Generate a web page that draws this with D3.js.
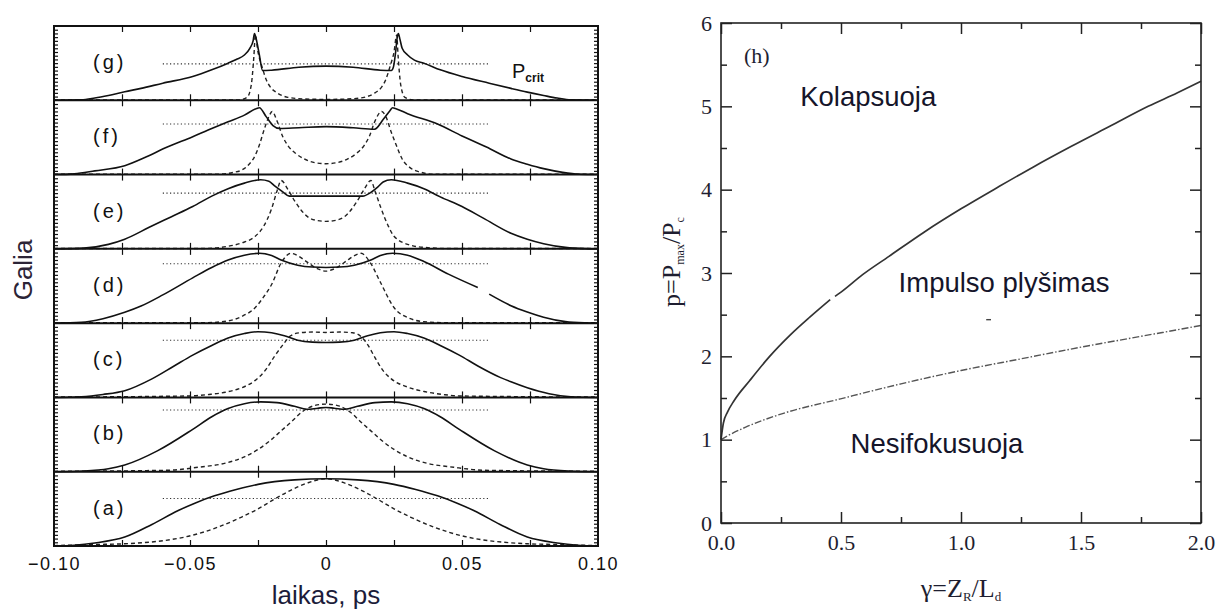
<!DOCTYPE html>
<html><head><meta charset="utf-8">
<script src="https://cdn.jsdelivr.net/npm/d3@7"></script>
<style>
html,body{margin:0;padding:0;background:#fff;}
svg{display:block;}
</style></head>
<body>
<svg id="chart" width="1232" height="612"></svg>
<script>
// ---------------- DATA ----------------
// left panels, top to bottom
const panelNames = ["(g)", "(f)", "(e)", "(d)", "(c)", "(b)", "(a)"];
const timeTicks = [-0.1, -0.05, 0, 0.05, 0.1];
const timeTickLabels = ["\u22120.10", "\u22120.05", "0", "0.05", "0.10"];
const pcritLevels = [0.49, 0.68, 0.75, 0.80, 0.77, 0.83, 0.64];
const pcritRange = [-0.06, 0.06];

const solidG = [[-0.1,0],[-0.09,0.005],[-0.085,0.03],[-0.08,0.065],[-0.074,0.115],[-0.068,0.16],[-0.06,0.23],[-0.049,0.32],[-0.042,0.41],[-0.036,0.5],[-0.033,0.55],[-0.030,0.61],[-0.028,0.70],[-0.0268,0.80],[-0.0263,0.90],[-0.0255,0.80],[-0.0245,0.61],[-0.0233,0.40],[-0.02,0.405],[-0.01,0.445],[0,0.46],[0.01,0.445],[0.02,0.405],[0.024,0.40],[0.0248,0.45],[0.0256,0.65],[0.0262,0.85],[0.0266,0.90],[0.0272,0.82],[0.028,0.70],[0.030,0.61],[0.0325,0.54],[0.036,0.5],[0.042,0.41],[0.05,0.32],[0.06,0.23],[0.068,0.16],[0.074,0.11],[0.08,0.065],[0.085,0.03],[0.09,0.005],[0.1,0]];
const dashG = [[-0.1,0.005],[-0.032,0.005],[-0.029,0.04],[-0.0275,0.2],[-0.0265,0.6],[-0.026,0.88],[-0.025,0.65],[-0.0235,0.45],[-0.022,0.28],[-0.0205,0.18],[-0.018,0.1],[-0.014,0.04],[-0.008,0.018],[0,0.012],[0.008,0.018],[0.014,0.04],[0.018,0.1],[0.0205,0.18],[0.022,0.28],[0.0235,0.45],[0.025,0.65],[0.026,0.88],[0.0265,0.6],[0.0275,0.2],[0.029,0.04],[0.032,0.005],[0.1,0.005]];

const solidF = [[-0.1,0],[-0.0925,0.01],[-0.085,0.05],[-0.074,0.12],[-0.066,0.24],[-0.059,0.36],[-0.049,0.51],[-0.042,0.62],[-0.036,0.71],[-0.03,0.8],[-0.0255,0.89],[-0.0245,0.90],[-0.022,0.78],[-0.0195,0.66],[-0.017,0.62],[-0.01,0.63],[0,0.645],[0.01,0.63],[0.0178,0.61],[0.021,0.74],[0.0235,0.86],[0.0245,0.90],[0.0255,0.89],[0.03,0.82],[0.041,0.68],[0.05,0.52],[0.059,0.37],[0.068,0.21],[0.074,0.14],[0.08,0.08],[0.087,0.03],[0.093,0.005],[0.1,0]];
const dashF = [[-0.1,0.005],[-0.04,0.005],[-0.034,0.03],[-0.031,0.06],[-0.028,0.15],[-0.026,0.26],[-0.0243,0.42],[-0.0227,0.61],[-0.021,0.78],[-0.0198,0.85],[-0.018,0.72],[-0.016,0.52],[-0.014,0.39],[-0.011,0.28],[-0.008,0.21],[-0.004,0.16],[0,0.146],[0.004,0.16],[0.008,0.21],[0.011,0.28],[0.014,0.39],[0.016,0.52],[0.018,0.72],[0.0205,0.85],[0.022,0.78],[0.024,0.57],[0.026,0.38],[0.028,0.21],[0.031,0.09],[0.034,0.04],[0.04,0.005],[0.1,0.005]];

const solidE = [[-0.1,0],[-0.089,0.01],[-0.08,0.06],[-0.074,0.13],[-0.065,0.29],[-0.057,0.43],[-0.049,0.57],[-0.042,0.71],[-0.036,0.81],[-0.03,0.885],[-0.024,0.93],[-0.021,0.91],[-0.019,0.85],[-0.016,0.77],[-0.0135,0.71],[-0.005,0.71],[0,0.71],[0.005,0.71],[0.0135,0.71],[0.0165,0.76],[0.019,0.83],[0.021,0.9],[0.024,0.93],[0.03,0.885],[0.036,0.81],[0.042,0.70],[0.05,0.57],[0.058,0.41],[0.068,0.21],[0.074,0.13],[0.08,0.07],[0.088,0.02],[0.095,0.003],[0.1,0]];
const dashE = [[-0.1,0.005],[-0.045,0.005],[-0.036,0.035],[-0.031,0.08],[-0.026,0.17],[-0.023,0.3],[-0.020,0.54],[-0.018,0.78],[-0.0165,0.92],[-0.014,0.8],[-0.0116,0.65],[-0.0067,0.43],[-0.003,0.38],[0,0.37],[0.003,0.38],[0.0067,0.43],[0.0116,0.65],[0.014,0.8],[0.0165,0.92],[0.018,0.78],[0.020,0.57],[0.023,0.3],[0.025,0.17],[0.031,0.05],[0.036,0.02],[0.045,0.005],[0.1,0.005]];

const solidD = [[-0.1,0],[-0.09,0.01],[-0.082,0.06],[-0.074,0.146],[-0.068,0.23],[-0.06,0.38],[-0.049,0.61],[-0.042,0.75],[-0.036,0.85],[-0.03,0.915],[-0.0245,0.94],[-0.02,0.91],[-0.0165,0.85],[-0.0104,0.78],[-0.005,0.755],[0,0.75],[0.005,0.755],[0.0104,0.78],[0.0165,0.85],[0.02,0.91],[0.0245,0.94],[0.03,0.915],[0.036,0.83],[0.045,0.66],[0.0558,0.48],null,[0.06,0.39],[0.068,0.235],[0.074,0.15],[0.08,0.08],[0.088,0.02],[0.095,0.003],[0.1,0]];
const dashD = [[-0.1,0.005],[-0.045,0.005],[-0.036,0.03],[-0.031,0.09],[-0.026,0.21],[-0.023,0.35],[-0.020,0.52],[-0.0165,0.81],[-0.0129,0.94],[-0.01,0.9],[-0.008,0.85],[-0.003,0.73],[0,0.70],[0.003,0.73],[0.008,0.85],[0.01,0.9],[0.0129,0.94],[0.0165,0.8],[0.020,0.55],[0.025,0.21],[0.031,0.06],[0.036,0.02],[0.045,0.005],[0.1,0.005]];

const solidC = [[-0.1,0],[-0.09,0.01],[-0.082,0.04],[-0.074,0.09],[-0.064,0.25],[-0.056,0.42],[-0.049,0.57],[-0.042,0.7],[-0.036,0.80],[-0.03,0.86],[-0.025,0.885],[-0.02,0.87],[-0.0153,0.83],[-0.0104,0.77],[-0.005,0.745],[0,0.74],[0.005,0.745],[0.0104,0.77],[0.0153,0.83],[0.02,0.87],[0.025,0.885],[0.03,0.86],[0.036,0.80],[0.042,0.7],[0.049,0.57],[0.056,0.42],[0.064,0.27],[0.068,0.21],[0.074,0.13],[0.082,0.05],[0.09,0.01],[0.1,0]];
const dashC = [[-0.1,0.005],[-0.05,0.02],[-0.043,0.04],[-0.037,0.07],[-0.031,0.13],[-0.026,0.23],[-0.022,0.38],[-0.019,0.55],[-0.016,0.7],[-0.013,0.83],[-0.0098,0.87],[-0.005,0.88],[0,0.875],[0.005,0.88],[0.0098,0.87],[0.0129,0.82],[0.0155,0.7],[0.0178,0.55],[0.021,0.36],[0.024,0.25],[0.03,0.14],[0.036,0.08],[0.043,0.04],[0.049,0.02],[0.1,0.005]];

const solidB = [[-0.1,0],[-0.089,0.01],[-0.08,0.04],[-0.074,0.09],[-0.062,0.28],[-0.049,0.57],[-0.042,0.74],[-0.036,0.85],[-0.03,0.915],[-0.024,0.94],[-0.018,0.93],[-0.0116,0.88],[-0.007,0.84],[-0.003,0.855],[0,0.865],[0.003,0.855],[0.007,0.84],[0.0116,0.88],[0.018,0.93],[0.024,0.94],[0.03,0.915],[0.036,0.85],[0.042,0.74],[0.049,0.57],[0.062,0.28],[0.074,0.09],[0.08,0.04],[0.089,0.01],[0.1,0]];
const dashB = [[-0.1,0.005],[-0.058,0.02],[-0.047,0.06],[-0.037,0.115],[-0.03,0.2],[-0.025,0.30],[-0.0205,0.42],[-0.0165,0.55],[-0.0125,0.68],[-0.009,0.80],[-0.0043,0.89],[0,0.91],[0.0043,0.89],[0.009,0.80],[0.0125,0.68],[0.0165,0.55],[0.0205,0.42],[0.025,0.30],[0.03,0.2],[0.037,0.115],[0.047,0.06],[0.058,0.02],[0.1,0.005]];

const solidA = [[-0.1,0],[-0.0925,0.01],[-0.085,0.04],[-0.074,0.12],[-0.064,0.29],[-0.0545,0.475],[-0.048,0.58],[-0.041,0.675],[-0.033,0.76],[-0.025,0.83],[-0.0116,0.89],[0,0.905],[0.0116,0.89],[0.025,0.83],[0.033,0.76],[0.041,0.675],[0.048,0.58],[0.0545,0.475],[0.064,0.29],[0.074,0.12],[0.085,0.04],[0.0925,0.01],[0.1,0]];
const dashA = [[-0.1,0.005],[-0.085,0.02],[-0.074,0.03],[-0.0496,0.14],[-0.04,0.25],[-0.031,0.39],[-0.025,0.5],[-0.019,0.63],[-0.013,0.75],[-0.0067,0.85],[0,0.905],[0.0067,0.85],[0.013,0.75],[0.019,0.63],[0.025,0.5],[0.031,0.39],[0.04,0.25],[0.0496,0.14],[0.074,0.03],[0.085,0.02],[0.1,0.005]];

const solidSeries = [solidG, solidF, solidE, solidD, solidC, solidB, solidA];
const dashSeries = [dashG, dashF, dashE, dashD, dashC, dashB, dashA];

// right panel (h)
const gammaTicks = [0, 0.5, 1.0, 1.5, 2.0];
const gammaTickLabels = ["0.0", "0.5", "1.0", "1.5", "2.0"];
const pTicks = [0, 1, 2, 3, 4, 5, 6];
const collapseBoundary = [[0,1.0],[0.01,1.2],[0.027,1.33],[0.055,1.47],[0.12,1.71],[0.2,1.99],[0.29,2.26],[0.37,2.47],[0.455,2.68],null,[0.475,2.72],[0.5,2.77],[0.59,2.98],[0.7,3.2],[0.846,3.49],[1.0,3.77],[1.16,4.04],[1.3,4.27],[1.46,4.52],[1.62,4.76],[1.78,5.0],[1.9,5.16],[2.0,5.3]];
const focusBoundary = [[0,1.0],[0.03,1.05],[0.103,1.15],[0.253,1.31],[0.498,1.49],[0.75,1.67],[1.0,1.83],[1.25,1.97],[1.5,2.11],[1.75,2.24],[2.0,2.37]];
const strayMark = [[1.105,2.44],[1.125,2.44]];
const regionLabels = [
  {text:"Kolapsuoja", g:0.33, p:5.0},
  {text:"Impulso plyšimas", g:0.74, p:2.77},
  {text:"Nesifokusuoja", g:0.54, p:0.84}
];

// ---------------- DRAW ----------------
const svg = d3.select("#chart");
const sans = "'Liberation Sans', Arial, Helvetica, sans-serif";
const serif = "'Liberation Serif', 'Times New Roman', Times, serif";

// ===== Left panel =====
const L = {left:54, right:598, top:26, bottom:546};
const nP = panelNames.length;
const pH = (L.bottom - L.top) / nP;
const xL = d3.scaleLinear().domain([-0.1, 0.1]).range([L.left, L.right]);
const innerTimeTicks = d3.range(-0.075, 0.0751, 0.025);
const left = svg.append("g");

panelNames.forEach((name, i) => {
  const top = L.top + i * pH, bot = top + pH;
  const y = d3.scaleLinear().domain([0, 1]).range([bot, top]);
  const g = left.append("g");
  const ln = d3.line().defined(d => d !== null).x(d => xL(d[0])).y(d => y(d[1])).curve(d3.curveMonotoneX);

  // Pcrit dotted
  g.append("line")
    .attr("x1", xL(pcritRange[0])).attr("x2", xL(pcritRange[1]))
    .attr("y1", y(pcritLevels[i])).attr("y2", y(pcritLevels[i]))
    .attr("stroke", "#333").attr("stroke-width", 1.1).attr("stroke-dasharray", "1.2,2.4");
  // dashed
  g.append("path").attr("d", ln(dashSeries[i]))
    .attr("fill", "none").attr("stroke", "#222").attr("stroke-width", 1.4).attr("stroke-dasharray", "4,3");
  // solid
  g.append("path").attr("d", ln(solidSeries[i]))
    .attr("fill", "none").attr("stroke", "#111").attr("stroke-width", 1.6);

  // ticks: bottom (pointing up) and top (pointing down)
  const axB = g.append("g").attr("transform", `translate(0,${bot})`)
    .call(d3.axisTop(xL).tickValues(innerTimeTicks).tickSize(6).tickFormat(""));
  const axT = g.append("g").attr("transform", `translate(0,${top})`)
    .call(d3.axisBottom(xL).tickValues(innerTimeTicks).tickSize(6).tickFormat(""));
  const minorY = d3.range(1, 20).map(k => k / 20);
  const axLft = g.append("g").attr("transform", `translate(${L.left},0)`)
    .call(d3.axisRight(y).tickValues(minorY).tickSize(4).tickFormat(""));
  const axRgt = g.append("g").attr("transform", `translate(${L.right},0)`)
    .call(d3.axisLeft(y).tickValues(minorY).tickSize(4).tickFormat(""));
  [axB, axT, axLft, axRgt].forEach(a => {
    a.select(".domain").remove();
    a.selectAll(".tick line").attr("stroke", "#111").attr("stroke-width", 1.2);
  });

  // panel label
  g.append("text").attr("x", 93).attr("y", top + 36).attr("dy", "0.35em")
    .attr("font-family", sans).attr("font-size", 20).attr("letter-spacing", 3)
    .attr("fill", "#111").text(name);

  // divider
  if (i > 0) {
    g.append("line").attr("x1", L.left).attr("x2", L.right).attr("y1", top).attr("y2", top)
      .attr("stroke", "#111").attr("stroke-width", 2);
  }
});

// frame
left.append("rect").attr("x", L.left).attr("y", L.top)
  .attr("width", L.right - L.left).attr("height", L.bottom - L.top)
  .attr("fill", "none").attr("stroke", "#111").attr("stroke-width", 2);

// P_crit label
const pc = left.append("text").attr("x", 512).attr("y", 78)
  .attr("font-family", sans).attr("fill", "#111");
pc.append("tspan").attr("font-size", 20).text("P");
pc.append("tspan").attr("font-size", 12).attr("font-weight", "bold").attr("dy", 4).text("crit");

// bottom labels
const axXL = left.append("g").attr("transform", `translate(0,${L.bottom})`)
  .call(d3.axisBottom(xL).tickValues(timeTicks).tickSize(0).tickPadding(11)
    .tickFormat((d, i) => timeTickLabels[i]));
axXL.select(".domain").remove();
axXL.selectAll("text").attr("font-family", sans).attr("font-size", 18)
  .attr("letter-spacing", 1.5).attr("fill", "#111");

left.append("text").attr("x", (L.left + L.right) / 2).attr("y", 604)
  .attr("text-anchor", "middle").attr("font-family", sans).attr("font-size", 26)
  .attr("fill", "#1c1c3a").text("laikas, ps");
left.append("text").attr("transform", `translate(32,270) rotate(-90)`)
  .attr("text-anchor", "middle").attr("font-family", sans).attr("font-size", 26)
  .attr("fill", "#2c2436").text("Galia");

// ===== Right panel =====
const R = {left:721, right:1201, top:23, bottom:523};
const xR = d3.scaleLinear().domain([0, 2]).range([R.left, R.right]);
const yR = d3.scaleLinear().domain([0, 6]).range([R.bottom, R.top]);
const right = svg.append("g");

const lnR = d3.line().defined(d => d !== null).x(d => xR(d[0])).y(d => yR(d[1])).curve(d3.curveMonotoneX);
right.append("path").attr("d", lnR(focusBoundary)).attr("fill", "none")
  .attr("stroke", "#555").attr("stroke-width", 1.4).attr("stroke-dasharray", "7,2,1.5,2");
right.append("path").attr("d", lnR(collapseBoundary)).attr("fill", "none")
  .attr("stroke", "#333").attr("stroke-width", 1.7);
right.append("path").attr("d", lnR(strayMark)).attr("fill", "none")
  .attr("stroke", "#444").attr("stroke-width", 1.4);

const gMinor = [0.25, 0.75, 1.25, 1.75];
const pMinor = [0.5, 1.5, 2.5, 3.5, 4.5, 5.5];
function styleAx(a){ a.select(".domain").remove(); a.selectAll(".tick line").attr("stroke","#222").attr("stroke-width",1.5); }

const axBot = right.append("g").attr("transform", `translate(0,${R.bottom})`)
  .call(d3.axisBottom(xR).tickValues(gammaTicks).tickSizeInner(-11).tickSizeOuter(0).tickPadding(11.5)
    .tickFormat((d, i) => gammaTickLabels[i]));
styleAx(axBot);
axBot.selectAll("text").attr("font-family", serif).attr("font-size", 22).attr("fill", "#1e1e30");
styleAx(right.append("g").attr("transform", `translate(0,${R.bottom})`)
  .call(d3.axisBottom(xR).tickValues(gMinor).tickSize(-6).tickFormat("")));
styleAx(right.append("g").attr("transform", `translate(0,${R.top})`)
  .call(d3.axisTop(xR).tickValues(gammaTicks).tickSize(-11).tickFormat("")));
styleAx(right.append("g").attr("transform", `translate(0,${R.top})`)
  .call(d3.axisTop(xR).tickValues(gMinor).tickSize(-6).tickFormat("")));

const axLeftR = right.append("g").attr("transform", `translate(${R.left},0)`)
  .call(d3.axisLeft(yR).tickValues(pTicks).tickSizeInner(-11).tickSizeOuter(0).tickPadding(9)
    .tickFormat(d3.format("d")));
styleAx(axLeftR);
axLeftR.selectAll("text").attr("font-family", serif).attr("font-size", 22).attr("fill", "#1e1e30");
styleAx(right.append("g").attr("transform", `translate(${R.left},0)`)
  .call(d3.axisLeft(yR).tickValues(pMinor).tickSize(-6).tickFormat("")));
styleAx(right.append("g").attr("transform", `translate(${R.right},0)`)
  .call(d3.axisRight(yR).tickValues(pTicks).tickSize(-11).tickFormat("")));
styleAx(right.append("g").attr("transform", `translate(${R.right},0)`)
  .call(d3.axisRight(yR).tickValues(pMinor).tickSize(-6).tickFormat("")));

right.append("rect").attr("x", R.left).attr("y", R.top)
  .attr("width", R.right - R.left).attr("height", R.bottom - R.top)
  .attr("fill", "none").attr("stroke", "#222").attr("stroke-width", 1.6);

// texts
right.append("text").attr("x", 744).attr("y", 63).attr("font-family", serif)
  .attr("font-size", 22).attr("fill", "#1e1e30").text("(h)");
right.selectAll("text.region").data(regionLabels).join("text")
  .attr("class", "region")
  .attr("x", d => xR(d.g)).attr("y", d => yR(d.p))
  .attr("font-family", sans).attr("font-size", 27.5).attr("fill", "#15152a")
  .text(d => d.text);

// axis titles
const xt = right.append("text").attr("x", (R.left + R.right) / 2).attr("y", 597)
  .attr("text-anchor", "middle").attr("font-family", serif).attr("font-size", 26).attr("fill", "#1e1e30");
xt.append("tspan").text("\u03b3=Z");
xt.append("tspan").attr("font-size", 13).attr("dy", 4).text("R");
xt.append("tspan").attr("dy", -4).text("/L");
xt.append("tspan").attr("font-size", 13).attr("dy", 4).text("d");

const yt = right.append("text").attr("transform", `translate(680,262) rotate(-90)`)
  .attr("text-anchor", "middle").attr("font-family", serif).attr("font-size", 26).attr("fill", "#1e1e30");
yt.append("tspan").text("p=P");
yt.append("tspan").attr("font-size", 12).attr("dy", 4).text("max");
yt.append("tspan").attr("dy", -4).text("/P");
yt.append("tspan").attr("font-size", 12).attr("dy", 4).text("c");
</script>
</body></html>
